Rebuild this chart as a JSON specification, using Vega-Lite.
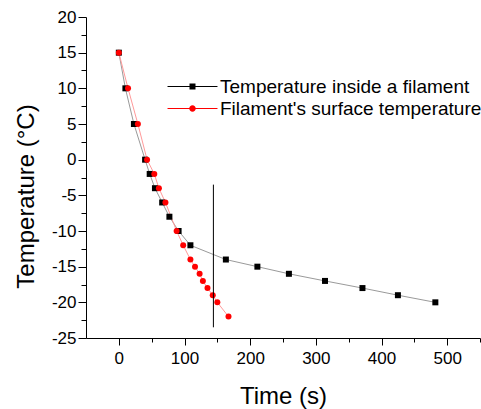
{
  "$schema": "https://vega.github.io/schema/vega-lite/v6.json",
  "width": 394,
  "height": 321,
  "autosize": {"type": "none"},
  "padding": {"left": 86, "top": 17, "right": 1, "bottom": 71},
  "background": "white",
  "config": {
    "font": "Liberation Sans",
    "view": {"stroke": null},
    "axis": {"grid": false, "domainColor": "#000", "tickColor": "#000", "labelColor": "#000", "titleColor": "#000", "labelFont": "Liberation Sans", "titleFont": "Liberation Sans", "titleFontWeight": "normal", "labelFontSize": 17, "titleFontSize": 24, "labelOverlap": false}
  },
  "datasets": {
    "pts": [
      {"series": "Temperature inside a filament", "time": 0, "temp": 15},
      {"series": "Temperature inside a filament", "time": 10, "temp": 10},
      {"series": "Temperature inside a filament", "time": 23, "temp": 5},
      {"series": "Temperature inside a filament", "time": 40, "temp": 0},
      {"series": "Temperature inside a filament", "time": 47, "temp": -2},
      {"series": "Temperature inside a filament", "time": 55, "temp": -4},
      {"series": "Temperature inside a filament", "time": 66, "temp": -6},
      {"series": "Temperature inside a filament", "time": 77, "temp": -8},
      {"series": "Temperature inside a filament", "time": 91, "temp": -10},
      {"series": "Temperature inside a filament", "time": 109, "temp": -12},
      {"series": "Temperature inside a filament", "time": 163, "temp": -14},
      {"series": "Temperature inside a filament", "time": 211, "temp": -15},
      {"series": "Temperature inside a filament", "time": 259, "temp": -16},
      {"series": "Temperature inside a filament", "time": 314, "temp": -17},
      {"series": "Temperature inside a filament", "time": 371, "temp": -18},
      {"series": "Temperature inside a filament", "time": 425, "temp": -19},
      {"series": "Temperature inside a filament", "time": 482, "temp": -20},
      {"series": "Filament's surface temperature", "time": 0, "temp": 15},
      {"series": "Filament's surface temperature", "time": 14, "temp": 10},
      {"series": "Filament's surface temperature", "time": 29, "temp": 5},
      {"series": "Filament's surface temperature", "time": 43, "temp": 0},
      {"series": "Filament's surface temperature", "time": 54, "temp": -2},
      {"series": "Filament's surface temperature", "time": 61, "temp": -4},
      {"series": "Filament's surface temperature", "time": 71, "temp": -6},
      {"series": "Filament's surface temperature", "time": 88, "temp": -10},
      {"series": "Filament's surface temperature", "time": 98, "temp": -12},
      {"series": "Filament's surface temperature", "time": 109, "temp": -14},
      {"series": "Filament's surface temperature", "time": 116, "temp": -15},
      {"series": "Filament's surface temperature", "time": 123, "temp": -16},
      {"series": "Filament's surface temperature", "time": 128, "temp": -17},
      {"series": "Filament's surface temperature", "time": 135, "temp": -18},
      {"series": "Filament's surface temperature", "time": 143, "temp": -19},
      {"series": "Filament's surface temperature", "time": 150, "temp": -20},
      {"series": "Filament's surface temperature", "time": 167, "temp": -22}
    ],
    "marker": [{"time": 144, "temp": -3.5, "temp2": -23.5}]
  },
  "encoding": {
    "x": {"field": "time", "type": "quantitative", "scale": {"domain": [-50, 550], "nice": false, "zero": false},
      "axis": {"values": [0, 50, 100, 150, 200, 250, 300, 350, 400, 450, 500, 550], "labelOverlap": false,
        "labelExpr": "datum.value % 100 === 0 ? '' + datum.value : ''",
        "tickSize": {"condition": {"test": "datum.value % 100 === 0", "value": 7}, "value": 4},
        "labelPadding": 5, "title": "Time (s)", "titlePadding": 18}},
    "y": {"field": "temp", "type": "quantitative", "scale": {"domain": [-25, 20], "nice": false, "zero": false},
      "axis": {"values": [-25, -22.5, -20, -17.5, -15, -12.5, -10, -7.5, -5, -2.5, 0, 2.5, 5, 7.5, 10, 12.5, 15, 17.5, 20], "labelOverlap": false,
        "labelExpr": "datum.value % 5 === 0 ? '' + datum.value : ''",
        "tickSize": {"condition": {"test": "datum.value % 5 === 0", "value": 8}, "value": 5},
        "labelPadding": 2, "title": "Temperature (°C)", "titlePadding": 13, "titleY": 179}}
  },
  "layer": [
    {
      "data": {"name": "pts"},
      "mark": {"type": "line", "strokeWidth": 1},
      "encoding": {
        "color": {"field": "series", "type": "nominal", "scale": {"domain": ["Temperature inside a filament", "Filament's surface temperature"], "range": ["#9a9a9a", "#ff9a9a"]}, "legend": null},
        "detail": {"field": "series"}
      }
    },
    {
      "data": {"name": "pts"},
      "mark": {"type": "point", "filled": true, "opacity": 1, "size": 36, "strokeWidth": 0},
      "encoding": {
        "shape": {"field": "series", "type": "nominal", "scale": {"domain": ["Temperature inside a filament", "Filament's surface temperature"], "range": ["square", "circle"]}, "legend": null},
        "color": {"field": "series", "type": "nominal", "scale": {"domain": ["Temperature inside a filament", "Filament's surface temperature"], "range": ["#000000", "#ff0000"]}, "legend": null}
      }
    },
    {
      "data": {"name": "pts"},
      "transform": [{"filter": "datum.time < -1000"}],
      "mark": {"type": "point", "filled": true, "opacity": 1, "strokeWidth": 0},
      "encoding": {
        "shape": {"field": "series", "type": "nominal", "scale": {"domain": ["Temperature inside a filament", "Filament's surface temperature"],
          "range": ["M-4,-0.08H4V0.08H-4Z M-0.48,-0.48H0.48V0.48H-0.48Z", "M-4,-0.08H4V0.08H-4Z M-0.52,0A0.52,0.52 0 1,1 0.52,0A0.52,0.52 0 1,1 -0.52,0Z"]},
          "legend": {"title": null, "orient": "none", "legendX": 97, "legendY": 60, "labelFontSize": 19, "labelFont": "Liberation Sans", "labelColor": "#000", "labelLimit": 0, "symbolSize": 156, "symbolStrokeWidth": 0, "labelOffset": 18, "rowPadding": 2}},
        "color": {"field": "series", "type": "nominal", "scale": {"domain": ["Temperature inside a filament", "Filament's surface temperature"], "range": ["#000000", "#ff0000"]},
          "legend": {"title": null, "orient": "none", "legendX": 97, "legendY": 60, "labelFontSize": 19, "labelFont": "Liberation Sans", "labelColor": "#000", "labelLimit": 0, "symbolSize": 156, "symbolStrokeWidth": 0, "labelOffset": 18, "rowPadding": 2}}
      }
    },
    {
      "data": {"name": "marker"},
      "mark": {"type": "rule", "color": "#000", "strokeWidth": 1},
      "encoding": {
        "y2": {"field": "temp2"}
      }
    }
  ],
  "resolve": {"scale": {"color": "independent", "shape": "independent"}}
}
